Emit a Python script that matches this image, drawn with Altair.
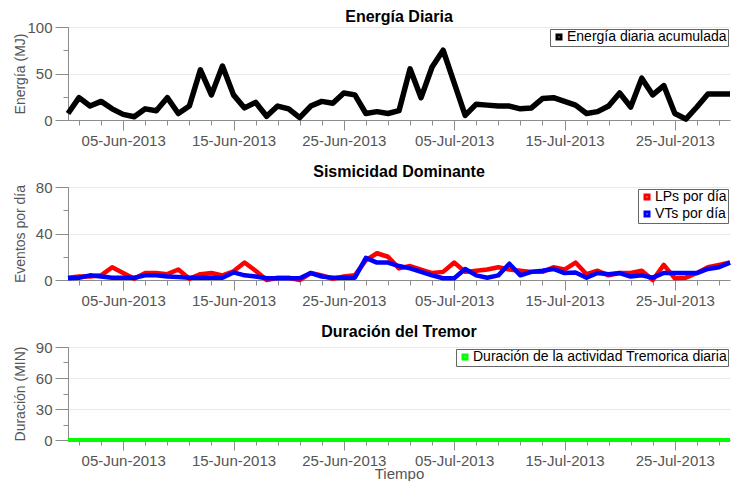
import altair as alt
import pandas as pd

# ---------------- data ----------------
fechas = pd.date_range("2013-05-31", periods=61, freq="D").strftime("%Y-%m-%d").tolist()

energia = [7, 24, 15, 20, 12, 6, 3.5, 12, 10, 24, 7, 15, 54, 27, 58, 27, 13, 19, 4, 15,
           12, 2.5, 15, 20, 18, 29, 27, 7, 9, 7, 10, 55, 24, 57, 75, 40, 5, 17, 16, 15,
           15, 12, 13, 23, 24, 20, 16, 7, 9, 15, 29, 14, 45, 27, 37, 7, 1, 14, 28, 28, 28]

lps = [2, 3, 3, 4, 11, 6, 1, 6, 6, 5, 9, 1, 5, 6, 4, 7.5, 15, 8, 0, 2,
       2, 0, 6, 4, 1, 3, 4, 17, 23, 20, 10, 12, 9, 6, 7, 15, 7, 8, 9, 11,
       9, 8, 7, 7, 11, 9, 15, 5, 8, 4, 6, 6, 8, 0, 13, 1.5, 2, 6, 11, 13, 15]

vts = [1.5, 2, 4, 3, 2, 2, 2, 4, 4, 3, 2.5, 2, 2, 2, 2, 6.5, 4, 3, 1.5, 1.5,
       1.5, 1.5, 6, 3, 2, 2, 2, 19, 15, 15, 12, 10, 7, 4, 1.5, 1.5, 9.5, 4, 2, 4,
       14, 4, 7, 8, 9.5, 6, 6.5, 2, 6, 5, 6, 3, 4, 2, 6, 6, 6, 6, 9.5, 11, 15]

tremor = [0, 0, 0, 0, 0, 0, 0, 0, 0, 0, 0, 0, 0, 0, 0, 0, 0, 0, 0, 0,
          0, 0, 0, 0, 0, 0, 0, 0, 0, 0, 0, 0, 0, 0, 0, 0, 0, 0, 0, 0,
          0, 0, 0, 0, 0, 0, 0, 0, 0, 0, 0, 0, 0, 0, 0, 0, 0, 0, 0, 0, 0]

serie_energia = ["Energía diaria acumulada"]
serie_sismo = ["LPs por día", "VTs por día"]
serie_tremor = ["Duración de la actividad Tremorica diaria"]

x_ticks = pd.date_range("2013-06-01", "2013-07-29", freq="2D")

# ---------------- helpers ----------------
FONT = "Liberation Sans"
GRAY = "#555555"
AXIS_GRAY = "#8c8c8c"


def dt(ts):
    return alt.DateTime(year=ts.year, month=ts.month, date=ts.day, utc=True)


x_domain = [dt(pd.Timestamp(fechas[0])), dt(pd.Timestamp(fechas[-1]))]
x_values = [dt(t) for t in x_ticks]
major_x = "utcdate(datum.value) % 10 == 5"


def x_axis(title=None):
    kw = dict(
        values=x_values,
        labelExpr=f"{major_x} ? utcFormat(datum.value, '%d-%b-%Y') : ''",
        tickSize={"condition": {"test": major_x, "value": 10}, "value": 5},
        tickColor=AXIS_GRAY, domainColor=AXIS_GRAY,
        labelFont=FONT, labelFontSize=15, labelColor=GRAY, labelPadding=3,
        labelAngle=0, labelOverlap=False, labelFlush=False,
        grid=False,
    )
    if title:
        kw.update(title=title, titleFont=FONT, titleFontSize=15, titleColor=GRAY,
                  titleFontWeight="normal", titlePadding=-2)
    else:
        kw.update(title=None)
    return alt.Axis(**kw)


def y_axis(title, ticks, major):
    test = f"datum.value % {major} == 0"
    return alt.Axis(
        title=title, values=ticks,
        labelExpr=f"{test} ? datum.label : ''",
        tickSize={"condition": {"test": test, "value": 13}, "value": 5},
        tickColor=AXIS_GRAY, domainColor=AXIS_GRAY,
        labelFont=FONT, labelFontSize=15, labelColor=GRAY, labelPadding=3,
        grid=True, gridColor="#e9e9e9",
        gridOpacity={"condition": {"test": test, "value": 1}, "value": 0},
        titleFont=FONT, titleFontSize=14, titleColor=GRAY, titleFontWeight="normal",
        titlePadding=11, minExtent=30, maxExtent=30,
    )


def legend():
    return alt.Legend(
        title=None, orient="top-right", offset=2,
        strokeColor="#666666", fillColor="white", padding=1, cornerRadius=0,
        symbolType="square", symbolSize=16, symbolStrokeWidth=3, symbolOffset=1,
        labelFont=FONT, labelFontSize=14, labelColor="black", labelOffset=1,
        labelLimit=400, rowPadding=1,
    )


def panel(df, title, ytitle, ymax, ticks, major, domain, colors, width_line,
          xtitle=None, title_offset=0):
    return alt.Chart(df).mark_line(strokeWidth=width_line, strokeJoin="round").encode(
        x=alt.X("fecha:T", scale=alt.Scale(type="utc", domain=x_domain), axis=x_axis(xtitle)),
        y=alt.Y("valor:Q", scale=alt.Scale(domain=[0, ymax], nice=False), axis=y_axis(ytitle, ticks, major)),
        color=alt.Color("serie:N", scale=alt.Scale(domain=domain, range=colors), legend=legend()),
    ).properties(
        width=662, height=93,
        title=alt.TitleParams(text=title, font=FONT, fontSize=16, fontWeight="bold",
                              color="black", anchor="middle", offset=title_offset),
    )


df1 = pd.DataFrame({"fecha": fechas, "valor": energia, "serie": serie_energia[0]})
df2 = pd.concat([
    pd.DataFrame({"fecha": fechas, "valor": lps, "serie": serie_sismo[0]}),
    pd.DataFrame({"fecha": fechas, "valor": vts, "serie": serie_sismo[1]}),
])
df3 = pd.DataFrame({"fecha": fechas, "valor": tremor, "serie": serie_tremor[0]})

p1 = panel(df1, "Energía Diaria", "Energía (MJ)", 100, [0, 25, 50, 75, 100], 50,
           serie_energia, ["black"], 5.5, title_offset=-5)
p2 = panel(df2, "Sismicidad Dominante", "Eventos por día", 80, [0, 20, 40, 60, 80], 40,
           serie_sismo, ["#ff0000", "#0000ff"], 4.5)
p3 = panel(df3, "Duración del Tremor", "Duración (MIN)", 90, [0, 15, 30, 45, 60, 75, 90], 30,
           serie_tremor, ["#00ff00"], 4, xtitle="Tiempo")

chart = alt.vconcat(p1, p2, p3, spacing=16).resolve_scale(
    color="independent", y="independent"
).resolve_legend(color="independent").properties(
    padding={"left": 5, "top": 1, "right": 0, "bottom": 0},
    background="white",
).configure_view(stroke=None)

chart.save("out.html", embed_options={"renderer": "svg", "actions": False})
